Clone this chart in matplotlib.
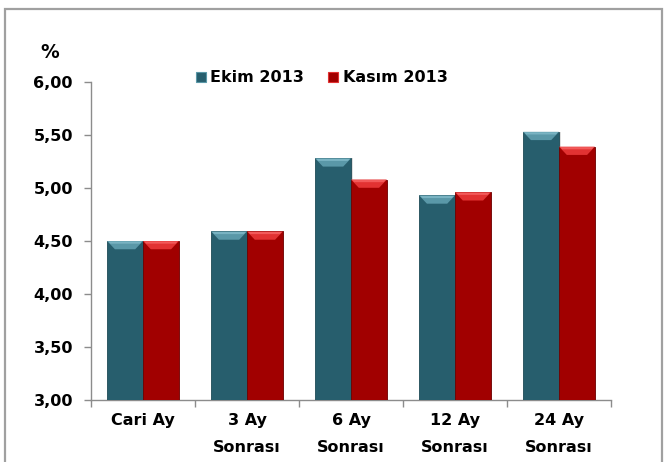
import matplotlib
matplotlib.use("Agg")
import matplotlib.pyplot as plt
from matplotlib.patches import Rectangle, Polygon
from matplotlib.lines import Line2D
import numpy as np

categories = ["Cari Ay", "3 Ay\nSonrası", "6 Ay\nSonrası", "12 Ay\nSonrası", "24 Ay\nSonrası"]
ekim_2013 = [4.50, 4.59, 5.28, 4.93, 5.53]
kasim_2013 = [4.50, 4.59, 5.08, 4.96, 5.39]
series_names = ["Ekim 2013", "Kasım 2013"]
yticks = [3.00, 3.50, 4.00, 4.50, 5.00, 5.50, 6.00]
ytick_labels = ["3,00", "3,50", "4,00", "4,50", "5,00", "5,50", "6,00"]

W, H = 671, 462
plt.rcParams['font.family'] = ['DejaVu Sans']
plt.rcParams['font.weight'] = 'bold'

fig = plt.figure(figsize=(W / 100, H / 100), dpi=100)
ax = fig.add_axes([91 / W, 1 - 400 / H, (611 - 91) / W, (400 - 82) / H])

body = ["#275E6D", "#A10000"]
bevel = ["#5A98A8", "#E23232"]
bevel_top = ["#79B3C2", "#F25A5A"]
edge = ["#1E4A56", "#6E0000"]

x = np.arange(len(categories))
bw = 0.345
ymin = 3.0
for si, vals in enumerate([ekim_2013, kasim_2013]):
    xs = x - bw / 2 + si * bw
    # soft shadow
    ax.bar(xs + 0.015, np.array(vals) - ymin, bottom=ymin, width=bw, color='#C8C8C8',
           alpha=0.6, linewidth=0, zorder=2)
    ax.bar(xs, np.array(vals) - ymin, bottom=ymin, width=bw, color=body[si],
           edgecolor=edge[si], linewidth=0.6, zorder=3)
    # bevel effect on the top of each bar
    for xc, v in zip(xs, vals):
        x0, x1 = xc - bw / 2, xc + bw / 2
        inset = 0.075
        h = 0.078
        ax.add_patch(Polygon([(x0, v), (x1, v), (x1 - inset, v - h), (x0 + inset, v - h)],
                             closed=True, facecolor=bevel[si], edgecolor='none', zorder=4))
        ax.add_patch(Polygon([(x0 + 0.01, v - 0.004), (x1 - 0.01, v - 0.004),
                              (x1 - 0.03, v - 0.025), (x0 + 0.03, v - 0.025)],
                             closed=True, facecolor=bevel_top[si], edgecolor='none', zorder=5))

ax.set_xlim(-0.5, len(categories) - 0.5)
ax.set_ylim(3.0, 6.0)
ax.set_yticks(yticks)
ax.set_yticklabels(ytick_labels)
ax.set_xticks(x)
ax.set_xticklabels(categories, linespacing=2.0)
ax.set_xticks(np.arange(-0.5, len(categories), 1.0), minor=True)

for s in ['top', 'right']:
    ax.spines[s].set_visible(False)
for s in ['left', 'bottom']:
    ax.spines[s].set_color('#8C8C8C')
    ax.spines[s].set_linewidth(1.0)

ax.tick_params(axis='y', direction='out', length=5, width=1.0, color='#8C8C8C',
               labelsize=11.5, pad=8, labelcolor='black')
ax.tick_params(axis='x', which='major', length=0, pad=9, labelsize=11.5)
ax.tick_params(axis='x', which='minor', direction='out', length=5, width=1.0, color='#8C8C8C')
for lab in ax.get_xticklabels() + ax.get_yticklabels():
    lab.set_fontweight('bold')

fig.text(50 / W, 1 - 53 / H, "%", ha='center', va='center', fontsize=13.5, fontweight='bold')

handles = [Line2D([], [], marker='s', linestyle='', markersize=7, markerfacecolor=body[i],
                  markeredgecolor=bevel[i], markeredgewidth=0.8) for i in range(2)]
leg = fig.legend(handles, series_names, loc='center', bbox_to_anchor=(321 / W, 1 - 78 / H), ncol=2,
                 frameon=False, handlelength=0.8, handletextpad=0.2, columnspacing=1.4,
                 prop={'size': 11.5, 'weight': 'bold'})

fig.patches.append(Rectangle((5 / W, -0.1), (662 - 5) / W, 1.1 - 9 / H, transform=fig.transFigure,
                             fill=False, edgecolor='#A0A0A0', linewidth=1.6))

fig.savefig("out.png", dpi=100)
